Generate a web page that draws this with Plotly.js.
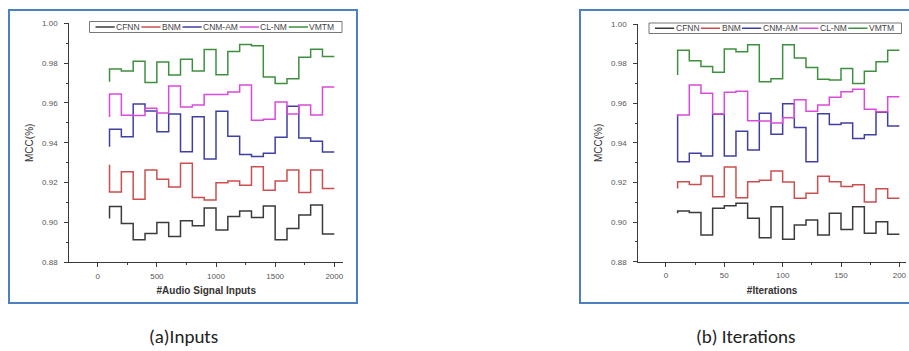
<!DOCTYPE html>
<html>
<head>
<meta charset="utf-8">
<script src="https://cdn.plot.ly/plotly-3.0.1.min.js"></script>
<style>
  html, body { margin: 0; padding: 0; background: #ffffff; }
  #chart { width: 909px; height: 351px; }
</style>
</head>
<body>
<div id="chart"></div>
<script>
// Series names and colours (shared by both panels)
const seriesNames = ['CFNN', 'BNM', 'CNM-AM', 'CL-NM', 'VMTM'];
const seriesColors = ['#3b3b3b', '#cc4f4f', '#3f3fa3', '#d94bd9', '#3f8f3f'];

// Panel (a): MCC vs number of audio signal inputs
const inputs = [100, 200, 300, 400, 500, 600, 700, 800, 900, 1000,
                1100, 1200, 1300, 1400, 1500, 1600, 1700, 1800, 1900, 2000];
const inputsCFNN  = [0.902, 0.908, 0.8995, 0.8913, 0.8945, 0.900, 0.893, 0.9008, 0.8983, 0.9073,
                     0.8962, 0.903, 0.9058, 0.9025, 0.9083, 0.8913, 0.897, 0.9038, 0.9088, 0.8942];
const inputsBNM   = [0.929, 0.9153, 0.9255, 0.9117, 0.9263, 0.9217, 0.9178, 0.9297, 0.9125, 0.9113,
                     0.920, 0.9208, 0.9187, 0.928, 0.9162, 0.9208, 0.9263, 0.915, 0.9263, 0.917];
const inputsCNMAM = [0.938, 0.9468, 0.9431, 0.9595, 0.956, 0.9456, 0.9545, 0.9355, 0.9531, 0.9319,
                     0.9558, 0.9433, 0.9341, 0.9331, 0.9348, 0.9428, 0.9583, 0.9424, 0.9408, 0.9354];
const inputsCLNM  = [0.953, 0.9645, 0.9538, 0.9537, 0.9573, 0.955, 0.9685, 0.958, 0.959, 0.9642,
                     0.9642, 0.9655, 0.969, 0.9513, 0.9518, 0.9605, 0.9545, 0.959, 0.954, 0.968];
const inputsVMTM  = [0.9706, 0.977, 0.976, 0.981, 0.9703, 0.9806, 0.974, 0.982, 0.976, 0.9868,
                     0.9742, 0.9859, 0.9893, 0.9887, 0.973, 0.9698, 0.9722, 0.9829, 0.987, 0.9833];

// Panel (b): MCC vs number of iterations
const iterations = [10, 20, 30, 40, 50, 60, 70, 80, 90, 100,
                    110, 120, 130, 140, 150, 160, 170, 180, 190, 200];
const iterCFNN  = [0.9045, 0.9056, 0.9049, 0.8935, 0.907, 0.9083, 0.9095, 0.9019, 0.8921, 0.9077,
                   0.8913, 0.8985, 0.901, 0.8935, 0.9044, 0.8963, 0.9077, 0.8943, 0.9002, 0.8939];
const iterBNM   = [0.917, 0.9204, 0.919, 0.9233, 0.9128, 0.9278, 0.9123, 0.9203, 0.9211, 0.9258,
                   0.9202, 0.912, 0.9145, 0.9232, 0.9204, 0.918, 0.9188, 0.9102, 0.9168, 0.912];
const iterCNMAM = [0.9545, 0.9305, 0.9348, 0.9333, 0.9545, 0.9333, 0.9458, 0.9364, 0.955, 0.9444,
                   0.9597, 0.9478, 0.9305, 0.9547, 0.9493, 0.95, 0.9422, 0.9441, 0.9555, 0.9485];
const iterCLNM  = [0.9532, 0.954, 0.9692, 0.965, 0.9546, 0.9656, 0.9661, 0.9512, 0.951, 0.95,
                   0.9527, 0.9617, 0.956, 0.9591, 0.963, 0.9658, 0.967, 0.9569, 0.9557, 0.9633];
const iterVMTM  = [0.9743, 0.9867, 0.9815, 0.9785, 0.9756, 0.9874, 0.986, 0.9895, 0.9709, 0.9724,
                   0.9895, 0.9828, 0.978, 0.9721, 0.9717, 0.9775, 0.970, 0.9761, 0.981, 0.9867];

// Axis ticks
const yTickVals = [0.88, 0.90, 0.92, 0.94, 0.96, 0.98, 1.00];
const inputTicks = [0, 500, 1000, 1500, 2000];
const iterTicks = [0, 50, 100, 150, 200];

// Captions and titles
const captionA = '(a)Inputs';
const captionB = '(b) Iterations';
const yTitle = 'MCC(%)';
const xTitleA = '#Audio Signal Inputs';
const xTitleB = '#Iterations';

// ---- page geometry (pixels) ----
const W = 909, H = 351;
const px = v => v / W;
const py = v => 1 - v / H;

const tickFont = { family: 'Liberation Sans, Arial, sans-serif', size: 8, color: '#555555' };
const titleFont = { family: 'Liberation Sans, Arial, sans-serif', size: 10, color: '#333333' };
const legendFont = { family: 'Liberation Sans, Arial, sans-serif', size: 8.5, color: '#444444' };

const inputSeries = [inputsCFNN, inputsBNM, inputsCNMAM, inputsCLNM, inputsVMTM];
const iterSeries = [iterCFNN, iterBNM, iterCNMAM, iterCLNM, iterVMTM];

const traces = [];
seriesNames.forEach((name, i) => {
  traces.push({
    x: inputs, y: inputSeries[i], name: name, type: 'scatter', mode: 'lines',
    line: { shape: 'vh', color: seriesColors[i], width: 1.5 },
    xaxis: 'x', yaxis: 'y', showlegend: false
  });
});
seriesNames.forEach((name, i) => {
  traces.push({
    x: iterations, y: iterSeries[i], name: name, type: 'scatter', mode: 'lines',
    line: { shape: 'vh', color: seriesColors[i], width: 1.5 },
    xaxis: 'x2', yaxis: 'y2', showlegend: false
  });
});

function xAxis(domainPx, range, ticks, minorStep, title, anchor) {
  return {
    domain: [px(domainPx[0]), px(domainPx[1])], range: range, anchor: anchor,
    showline: true, linecolor: '#3a3a3a', linewidth: 1, mirror: false,
    ticks: 'outside', ticklen: 4, tickwidth: 1, tickcolor: '#3a3a3a',
    tickmode: 'array', tickvals: ticks, ticktext: ticks.map(String),
    minor: { dtick: minorStep, tick0: 0, ticks: 'outside', ticklen: 2, tickcolor: '#3a3a3a', showgrid: false },
    ticklabelstandoff: 2,
    showgrid: false, zeroline: false, tickfont: tickFont,
    title: { text: title, font: Object.assign({}, titleFont, { weight: 'bold' }), standoff: 7 }
  };
}
function yAxis(domainPx, anchor) {
  return {
    domain: [py(domainPx[1]), py(domainPx[0])], range: [0.88, 1.0], anchor: anchor,
    showline: true, linecolor: '#3a3a3a', linewidth: 1, mirror: false,
    ticks: 'outside', ticklen: 4, tickwidth: 1, tickcolor: '#3a3a3a',
    tickmode: 'array', tickvals: yTickVals, tickformat: '.2f',
    minor: { dtick: 0.01, tick0: 0.88, ticks: 'outside', ticklen: 2, tickcolor: '#3a3a3a', showgrid: false },
    ticklabelstandoff: 5,
    showgrid: false, zeroline: false, tickfont: tickFont,
    title: { text: yTitle, font: titleFont, standoff: 6 }
  };
}

const shapes = [
  // picture frames around each panel
  { type: 'rect', xref: 'paper', yref: 'paper', x0: px(9), x1: px(357), y0: py(303), y1: py(10),
    line: { color: '#4d80c2', width: 2 } },
  { type: 'rect', xref: 'paper', yref: 'paper', x0: px(580), x1: px(914), y0: py(303), y1: py(10),
    line: { color: '#4d80c2', width: 2 } }
];
const annotations = [
  { text: captionA, xref: 'paper', yref: 'paper', x: px(183), y: py(336), xanchor: 'center', yanchor: 'middle',
    showarrow: false, font: { family: 'Carlito, "Noto Sans", sans-serif', size: 19, color: '#222222' } },
  { text: captionB, xref: 'paper', yref: 'paper', x: px(745), y: py(336), xanchor: 'center', yanchor: 'middle',
    showarrow: false, font: { family: 'Carlito, "Noto Sans", sans-serif', size: 19, color: '#222222' } }
];

// Horizontal boxed legend: line sample followed by its label, in series order
const ctx = document.createElement('canvas').getContext('2d');
ctx.font = legendFont.size + 'px "Liberation Sans", Arial, sans-serif';
function addLegend(left, right, top, bottom) {
  shapes.push({ type: 'rect', xref: 'paper', yref: 'paper', x0: px(left), x1: px(right), y0: py(bottom), y1: py(top),
    line: { color: '#777777', width: 1 }, fillcolor: 'rgba(255,255,255,0)' });
  const widths = seriesNames.map(n => ctx.measureText(n).width);
  const pad = 6, gap = 1.5;
  const textTotal = widths.reduce((a, b) => a + b, 0);
  const lineLen = (right - left - 2 * pad - textTotal - seriesNames.length * 2 * gap) / seriesNames.length;
  const mid = (top + bottom) / 2;
  let cx = left + pad;
  seriesNames.forEach((name, i) => {
    shapes.push({ type: 'line', xref: 'paper', yref: 'paper', x0: px(cx), x1: px(cx + lineLen), y0: py(mid), y1: py(mid),
      line: { color: seriesColors[i], width: 1.5 } });
    cx += lineLen + gap;
    annotations.push({ text: name, xref: 'paper', yref: 'paper', x: px(cx - 1), y: py(mid), xanchor: 'left', yanchor: 'middle',
      showarrow: false, font: legendFont, borderpad: 0 });
    cx += widths[i] + gap;
  });
}
addLegend(89.5, 342, 21.5, 32.5);
addLegend(649, 901.5, 23, 33.5);

const layout = {
  width: W, height: H,
  margin: { l: 0, r: 0, t: 0, b: 0 },
  paper_bgcolor: '#ffffff', plot_bgcolor: '#ffffff',
  showlegend: false,
  xaxis: xAxis([69.3, 343.3], [-240, 2076], inputTicks, 250, xTitleA, 'y'),
  yaxis: yAxis([23.3, 262.3], 'x'),
  xaxis2: xAxis([638.3, 906], [-23.7, 205.7], iterTicks, 25, xTitleB, 'y2'),
  yaxis2: yAxis([24, 261.7], 'x2'),
  shapes: shapes,
  annotations: annotations
};

Plotly.newPlot('chart', traces, layout, { staticPlot: true, displayModeBar: false });
</script>
</body>
</html>
